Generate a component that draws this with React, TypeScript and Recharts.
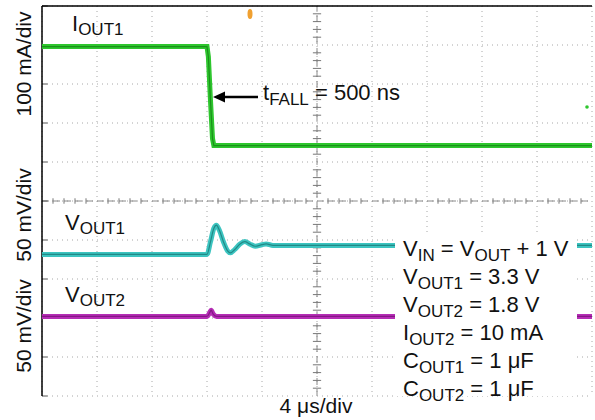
import React from 'react';
import { LineChart, Line, XAxis, YAxis, CartesianGrid, ReferenceLine } from 'recharts';

// screen units: x in µs (4 µs/div), y in divisions from the bottom of the graticule
const timeTicks = [0, 4, 8, 12, 16, 20, 24, 28, 32, 36, 40];
const divTicks = [0, 1, 2, 3, 4, 5, 6, 7, 8, 9, 10];
const minorTimeTicks = [
  0.8, 1.6, 2.4, 3.2, 4.8, 5.6, 6.4, 7.2, 8.8, 9.6, 10.4, 11.2, 12.8, 13.6, 14.4, 15.2,
  16.8, 17.6, 18.4, 19.2, 20.8, 21.6, 22.4, 23.2, 24.8, 25.6, 26.4, 27.2, 28.8, 29.6,
  30.4, 31.2, 32.8, 33.6, 34.4, 35.2, 36.8, 37.6, 38.4, 39.2,
];
const minorDivTicks = [0.2, 0.4, 0.6, 0.8, 1.2, 1.4, 1.6, 1.8, 2.2, 2.4, 2.6, 2.8, 3.2, 3.4, 3.6, 3.8,
  4.2, 4.4, 4.6, 4.8, 5.2, 5.4, 5.6, 5.8, 6.2, 6.4, 6.6, 6.8, 7.2, 7.4, 7.6, 7.8, 8.2, 8.4, 8.6, 8.8,
  9.2, 9.4, 9.6, 9.8];

// IOUT1 (100 mA/div)
const iout1Time = [0, 12.0, 12.1, 12.25, 12.4, 12.5, 40];
const iout1Div = [8.96, 8.96, 8.7, 7.6, 6.6, 6.42, 6.42];

// VOUT1 (50 mV/div)
const vout1Time = [0, 12.0, 12.25, 12.5, 12.68, 12.9, 13.2, 13.5, 13.7, 14.0, 14.4, 14.75, 15.1, 15.5, 16.0, 16.3, 16.8, 40];
const vout1Div = [3.63, 3.63, 3.95, 4.3, 4.38, 4.25, 3.95, 3.72, 3.67, 3.75, 3.9, 3.96, 3.9, 3.84, 3.88, 3.9, 3.86, 3.86];

// VOUT2 (50 mV/div)
const vout2Time = [0, 12.0, 12.2, 12.3, 12.45, 12.7, 40];
const vout2Div = [2.04, 2.04, 2.14, 2.2, 2.1, 2.04, 2.04];

const toPoints = (t: number[], v: number[]) => t.map((x, i) => ({ t: x, v: v[i] }));
const iout1 = toPoints(iout1Time, iout1Div);
const vout1 = toPoints(vout1Time, vout1Div);
const vout2 = toPoints(vout2Time, vout2Div);

const font = '"Liberation Sans", Arial, sans-serif';

const Sub: React.FC<{ children: React.ReactNode }> = ({ children }) => (
  <span style={{ fontSize: 17, position: 'relative', top: 5 }}>{children}</span>
);

const App: React.FC = () => {
  return (
    <div style={{ position: 'absolute', left: 0, top: 0, width: 595, height: 420, background: '#fff', fontFamily: font }}>
      <LineChart width={595} height={420} margin={{ top: 6, right: 3, bottom: 24, left: 42 }}>
        <XAxis type="number" dataKey="t" domain={[0, 40]} ticks={timeTicks} hide allowDataOverflow />
        <YAxis type="number" domain={[0, 10]} ticks={divTicks} hide allowDataOverflow />
        <CartesianGrid stroke="#a8a8a8" strokeDasharray="1 4" />
        <ReferenceLine x={20} stroke="#8a8a8a" strokeDasharray="7 4" />
        <ReferenceLine y={5} stroke="#8a8a8a" strokeDasharray="7 4" />
        {minorTimeTicks.map((t) => (
          <ReferenceLine key={'mx' + t} segment={[{ x: t, y: 4.93 }, { x: t, y: 5.07 }]} stroke="#777" />
        ))}
        {minorDivTicks.map((d) => (
          <ReferenceLine key={'my' + d} segment={[{ x: 19.7, y: d }, { x: 20.3, y: d }]} stroke="#777" />
        ))}
        {divTicks.map((d) => (
          <ReferenceLine key={'ly' + d} segment={[{ x: 0, y: d }, { x: 0.4, y: d }]} stroke="#555" />
        ))}
        <ReferenceLine x={0} stroke="#000" strokeWidth={1.5} />
        <ReferenceLine y={10} stroke="#000" strokeWidth={1.5} />

        <Line data={iout1} dataKey="v" type="linear" stroke="#2ec62e" strokeWidth={5} dot={false} isAnimationActive={false} />
        <Line data={iout1} dataKey="v" type="linear" stroke="#127a12" strokeWidth={1.2} strokeOpacity={0.7} dot={false} isAnimationActive={false} />
        <Line data={vout1} dataKey="v" type="monotone" stroke="#3cc4c0" strokeWidth={5} dot={false} isAnimationActive={false} />
        <Line data={vout1} dataKey="v" type="monotone" stroke="#16706e" strokeWidth={1.2} strokeOpacity={0.7} dot={false} isAnimationActive={false} />
        <Line data={vout2} dataKey="v" type="monotone" stroke="#b52db5" strokeWidth={5} dot={false} isAnimationActive={false} />
        <Line data={vout2} dataKey="v" type="monotone" stroke="#701070" strokeWidth={1.2} strokeOpacity={0.7} dot={false} isAnimationActive={false} />
      </LineChart>

      <svg width={595} height={420} style={{ position: 'absolute', left: 0, top: 0, pointerEvents: 'none' }} fontFamily={font}>
        <text transform="translate(31,64) rotate(-90)" textAnchor="middle" fontSize={21} fill="#111">100 mA/div</text>
        <text transform="translate(31,215) rotate(-90)" textAnchor="middle" fontSize={21} fill="#111">50 mV/div</text>
        <text transform="translate(31,326) rotate(-90)" textAnchor="middle" fontSize={21} fill="#111">50 mV/div</text>
        <text x={316} y={413} textAnchor="middle" fontSize={21} fill="#111">4 μs/div</text>

        <text x={72} y={31} fontSize={22} fill="#111">I<tspan fontSize={17} dy={4}>OUT1</tspan></text>
        <text x={65} y={230} fontSize={22} fill="#111">V<tspan fontSize={17} dy={4}>OUT1</tspan></text>
        <text x={65} y={302} fontSize={22} fill="#111">V<tspan fontSize={17} dy={4}>OUT2</tspan></text>

        <line x1={258} y1={97} x2={222} y2={97} stroke="#000" strokeWidth={2.5} />
        <polygon points="213,97 225,91.5 225,102.5" fill="#000" />
        <text x={263} y={100} fontSize={22} fill="#111">t<tspan fontSize={17} dy={5}>FALL</tspan><tspan dy={-5}> = 500 ns</tspan></text>

        <ellipse cx={250} cy={14} rx={2.5} ry={5} fill="#f0a030" />
        <circle cx={587} cy={107} r={1.8} fill="#2ec62e" />
      </svg>

      <div style={{ position: 'absolute', left: 395, top: 236, width: 174, height: 160, paddingLeft: 8, background: '#fff', fontSize: 22, lineHeight: '26px', color: '#111', whiteSpace: 'nowrap' }}>
        <div>V<Sub>IN</Sub> = V<Sub>OUT</Sub> + 1 V</div>
        <div>V<Sub>OUT1</Sub> = 3.3 V</div>
        <div>V<Sub>OUT2</Sub> = 1.8 V</div>
        <div>I<Sub>OUT2</Sub> = 10 mA</div>
        <div>C<Sub>OUT1</Sub> = 1 μF</div>
        <div>C<Sub>OUT2</Sub> = 1 μF</div>
      </div>
    </div>
  );
};

export default App;
